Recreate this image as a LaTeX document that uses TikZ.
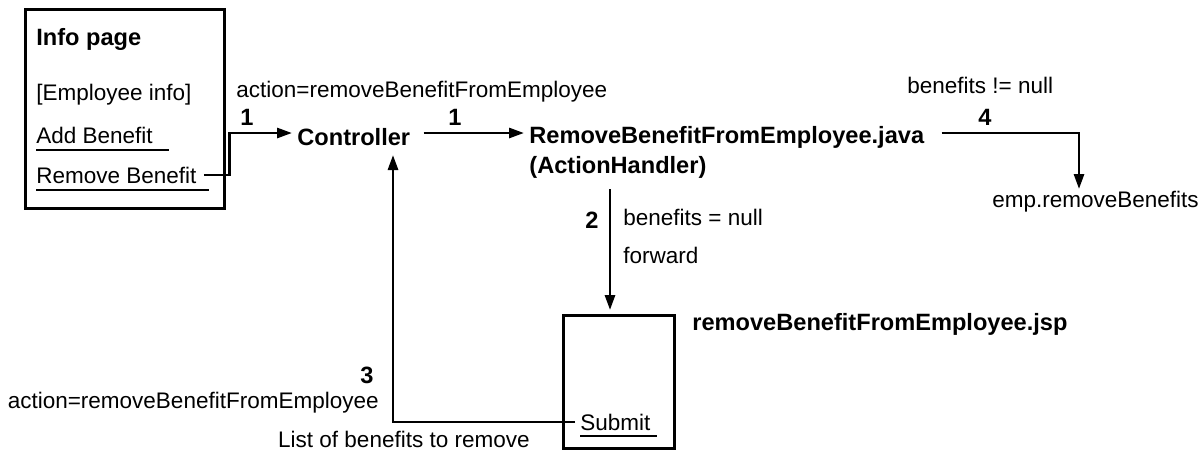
\documentclass[tikz,border=0pt]{standalone}
\usepackage{fontspec}
\setmainfont{Liberation Sans}
\usetikzlibrary{positioning, arrows.meta}

\newcommand{\plain}{\fontsize{11.25pt}{13pt}\selectfont}
\newcommand{\heavy}{\fontsize{11.8pt}{15pt}\selectfont\bfseries}

\begin{document}
\begin{tikzpicture}[x = 0.5pt, y = -0.5pt,
    every node/.style = { inner sep = 2.5pt, anchor = base west, font = \plain },
    title/.style = { font = \heavy },
    num/.style = { font = \heavy, anchor = center },
    frame/.style = { draw, line width = 1.4pt, anchor = north west, inner sep = 0pt },
    flow/.style = { line width = 1.4pt, -{Triangle[length = 7.5pt, width = 5pt]} },
    uline/.style = { line width = 1pt }]
  \useasboundingbox (0,0) rectangle (1204,452);

  % info page
  \node[frame, minimum width = 99.5pt, minimum height = 99.5pt] (page) at (24,8) {};
  \node[title] (info) at (31,45) {Info page};
  \node (empinfo) at (31,100) {[Employee info]};
  \node (add) at (31,143) {Add Benefit};
  \node (rmv) at (31,183) {Remove Benefit};
  \draw[uline] (36,150) -- (169,150);
  \draw[uline] (36,190) -- (209,190);

  % controller and handler
  \node (act) at (231,97) {action=removeBenefitFromEmployee};
  \node[num] (one) at (247,117) {1};
  \node[title] (ctrl) at (292,145) {Controller};
  \node[num] (onebis) at (455,117) {1};
  \node[title] (java) at (524,143) {RemoveBenefitFromEmployee.java};
  \node[title] (handler) at (524,173) {(ActionHandler)};

  % result
  \node (notnull) at (902,93) {benefits != null};
  \node[num] (four) at (985,117) {4};
  \node (emp) at (987,207) {emp.removeBenefits};

  % forward to jsp
  \node[num] (two) at (592,220) {2};
  \node (isnull) at (618,225) {benefits = null};
  \node (fwd) at (618,263) {forward};
  \node[frame, minimum width = 55.5pt, minimum height = 66.5pt] (jsp) at (562,314) {};
  \node[title] (jspname) at (687,330) {removeBenefitFromEmployee.jsp};
  \node (submit) at (575,430) {Submit};
  \draw[uline] (580,436) -- (657,436);

  % back to controller
  \node[num] (three) at (367,375) {3};
  \node[anchor = base east] (act2) at (384,408) {action=removeBenefitFromEmployee};
  \node[anchor = base east] (list) at (535,447) {List of benefits to remove};

  \coordinate (lvl) at (0,133);
  \coordinate (split) at (610,189);
  \coordinate (drop) at (1079,189);
  \coordinate (ret) at (393,155);

  \draw[flow] ([xshift = 1pt]rmv.east) -- ++(26,0) |- (ctrl.west |- lvl);
  \draw[flow, shorten <= 4pt] (ctrl.east |- lvl) -- (java.west |- lvl);
  \draw[flow, shorten <= 6pt] (java.east |- lvl) -| (drop);
  \draw[flow, shorten >= 2pt] (split) -- (split |- jsp.north);
  \draw[flow] (submit.west) -| (ret);
\end{tikzpicture}
\end{document}
